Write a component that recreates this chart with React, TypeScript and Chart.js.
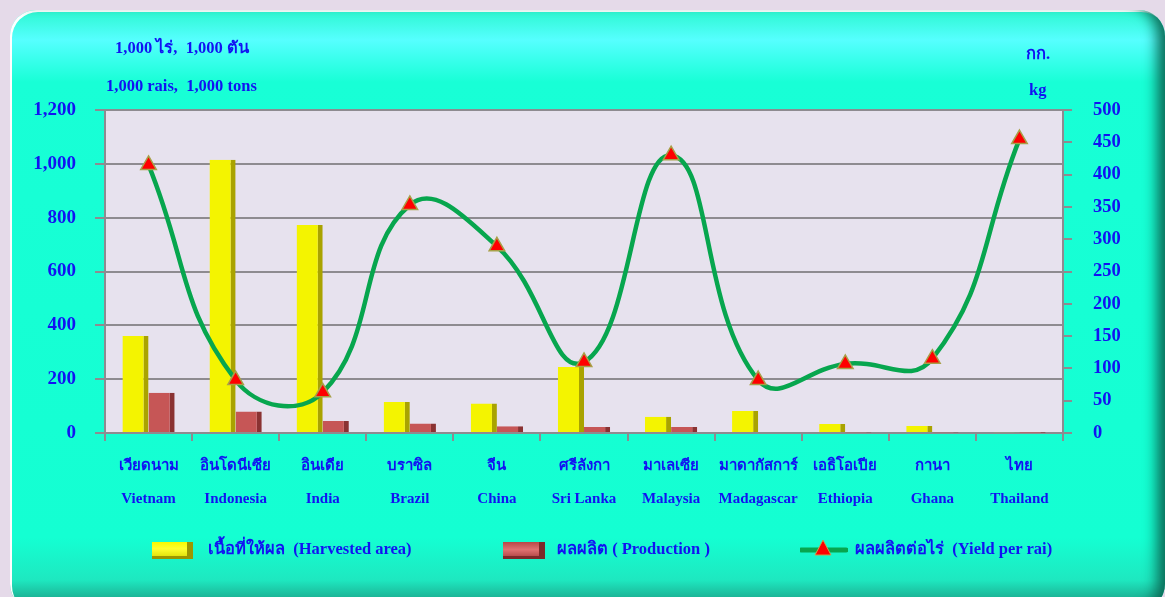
import React, { useEffect, useRef } from "react";
import { Chart, registerables } from "chart.js";

Chart.register(...registerables);

const categoriesThai = ["เวียดนาม", "อินโดนีเซีย", "อินเดีย", "บราซิล", "จีน", "ศรีลังกา", "มาเลเซีย", "มาดากัสการ์", "เอธิโอเปีย", "กานา", "ไทย"];
const categoriesEn = ["Vietnam", "Indonesia", "India", "Brazil", "China", "Sri Lanka", "Malaysia", "Madagascar", "Ethiopia", "Ghana", "Thailand"];
const harvestedArea = [360, 1015, 773, 115, 110, 245, 60, 82, 33, 26, 3];
const production = [150, 80, 45, 35, 25, 22, 22, 4, 2, 2, 1];
const yieldPerRai = [415, 82, 63, 353, 289, 110, 430, 82, 107, 115, 455];

const leftTicks = { min: 0, max: 1200, step: 200 };
const rightTicks = { min: 0, max: 500, step: 50 };

const BLUE = "#1212f2";
const FONT = "'Liberation Serif', 'Times New Roman', serif";
const GRID = "#8e8b90";

const plotBg = {
  id: "plotBg",
  beforeDraw(chart: any) {
    const { ctx, chartArea } = chart;
    ctx.save();
    ctx.fillStyle = "#e7e2ee";
    ctx.fillRect(chartArea.left, chartArea.top, chartArea.right - chartArea.left, chartArea.bottom - chartArea.top);
    ctx.restore();
  },
};

export default function App() {
  const ref = useRef<HTMLCanvasElement>(null);

  useEffect(() => {
    if (!ref.current) return;
    const chart = new Chart(ref.current, {
      type: "bar",
      data: {
        labels: categoriesEn.map((e, i) => [categoriesThai[i], e]),
        datasets: [
          {
            type: "line",
            label: "ผลผลิตต่อไร่ (Yield per rai)",
            data: yieldPerRai,
            yAxisID: "y1",
            borderColor: "#07a64e",
            borderWidth: 4.5,
            tension: 0.45,
            pointStyle: "triangle",
            pointRadius: 9,
            pointBackgroundColor: "#ff0000",
            pointBorderColor: "#a8a048",
            pointBorderWidth: 1.5,
            order: 0,
          } as any,
          {
            label: "เนื้อที่ให้ผล (Harvested area)",
            data: harvestedArea,
            yAxisID: "y",
            backgroundColor: "#f4f400",
            borderColor: "#a9a300",
            borderWidth: { left: 0, right: 5, top: 0, bottom: 0 },
            borderSkipped: false,
            categoryPercentage: 0.6,
            barPercentage: 1.0,
            order: 1,
          } as any,
          {
            label: "ผลผลิต ( Production )",
            data: production,
            yAxisID: "y",
            backgroundColor: "#c65656",
            borderColor: "#8a3232",
            borderWidth: { left: 0, right: 5, top: 0, bottom: 0 },
            borderSkipped: false,
            categoryPercentage: 0.6,
            barPercentage: 1.0,
            order: 1,
          } as any,
        ],
      },
      options: {
        responsive: false,
        animation: false,
        layout: { padding: { top: 110, bottom: 64, left: 0, right: 0 } },
        plugins: { legend: { display: false }, tooltip: { enabled: false } },
        scales: {
          x: {
            offset: true,
            grid: { display: true, drawOnChartArea: false, drawTicks: true, tickLength: 8, color: GRID, lineWidth: 2, offset: true },
            border: { display: true, color: GRID, width: 2 },
            ticks: { color: BLUE, font: { family: FONT, size: 15, weight: "bold", lineHeight: 2.2 }, padding: 9, maxRotation: 0, autoSkip: false },
            afterFit(s: any) { s.height = 100; },
          },
          y: {
            position: "left",
            min: leftTicks.min,
            max: leftTicks.max,
            ticks: { stepSize: leftTicks.step, color: BLUE, font: { family: FONT, size: 19, weight: "bold" }, padding: 19 },
            grid: { color: GRID, lineWidth: 2, tickLength: 10 },
            border: { display: true, color: GRID, width: 2 },
            afterFit(s: any) { s.width = 105; },
          },
          y1: {
            position: "right",
            min: rightTicks.min,
            max: rightTicks.max,
            ticks: { stepSize: rightTicks.step, color: BLUE, font: { family: FONT, size: 18.5, weight: "bold" }, padding: 21 },
            grid: { drawOnChartArea: false, color: GRID, lineWidth: 2, tickLength: 9 },
            border: { display: true, color: GRID, width: 2 },
            afterFit(s: any) { s.width = 102; },
          },
        },
      },
      plugins: [plotBg],
    });
    return () => chart.destroy();
  }, []);

  const txt: React.CSSProperties = { position: "absolute", color: BLUE, fontFamily: FONT, fontWeight: "bold", fontSize: 16.5, whiteSpace: "pre", lineHeight: 1 };

  return (
    <div style={{ position: "fixed", left: 0, top: 0, width: 1165, height: 597, background: "#e5dae9", overflow: "hidden" }}>
      <div
        style={{
          position: "absolute",
          left: 10,
          top: 10,
          width: 1155,
          height: 600,
          borderRadius: 26,
          background: "linear-gradient(to bottom, #2cf7d0 0%, #56ffff 5%, #18ffd6 12%, #14ffd2 88%, #1ee8c0 95%, #1a8f78 100%)",
          boxShadow: "inset -16px 0 14px -8px #0b6b57, inset 2px 2px 0 #ffffff",
        }}
      />
      <canvas ref={ref} width={1165} height={597} style={{ position: "absolute", left: 0, top: 0 }} />
      <div style={{ ...txt, left: 115, top: 40 }}>1,000 ไร่,  1,000 ตัน</div>
      <div style={{ ...txt, left: 106, top: 78 }}>1,000 rais,  1,000 tons</div>
      <div style={{ ...txt, left: 1026, top: 46 }}>กก.</div>
      <div style={{ ...txt, left: 1029, top: 82 }}>kg</div>
      <div style={{ position: "absolute", left: 152, top: 542, width: 41, height: 17, background: "linear-gradient(to bottom, #f8f800 0%, #ffff30 40%, #d8d800 100%)", boxShadow: "inset -6px -3px 0 #9c9600" }} />
      <div style={{ ...txt, left: 208, top: 541 }}>เนื้อที่ให้ผล  (Harvested area)</div>
      <div style={{ position: "absolute", left: 503, top: 542, width: 42, height: 17, background: "linear-gradient(to bottom, #b84848 0%, #e07272 45%, #a83c3c 100%)", boxShadow: "inset -6px -3px 0 #7c2a2a" }} />
      <div style={{ ...txt, left: 557, top: 541 }}>ผลผลิต ( Production )</div>
      <svg style={{ position: "absolute", left: 800, top: 538 }} width={48} height={22}>
        <line x1={1} y1={12} x2={46} y2={12} stroke="#07a64e" strokeWidth={5} strokeLinecap="round" />
        <polygon points="23,2 31,17 15,17" fill="#ff0000" stroke="#c8a048" strokeWidth={1} />
      </svg>
      <div style={{ ...txt, left: 855, top: 541 }}>ผลผลิตต่อไร่  (Yield per rai)</div>
    </div>
  );
}
